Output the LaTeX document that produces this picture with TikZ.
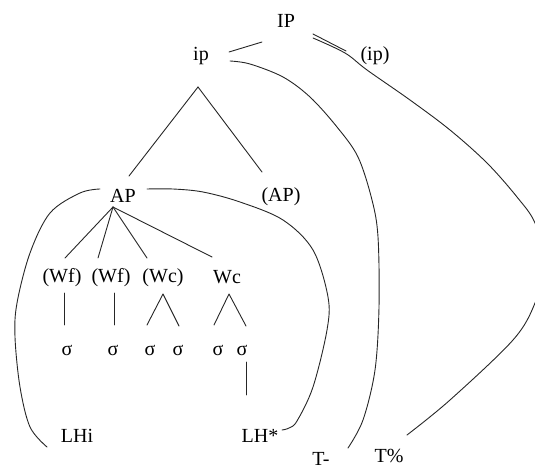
\documentclass[tikz,border=0pt]{standalone}
\usepackage{fontspec}
\setmainfont{Liberation Serif}
\newfontfamily\treefont{Liberation Serif}
\begin{document}
\begin{tikzpicture}[x=1pt,y=-1pt,
  lbl/.style={inner sep=0pt, font=\treefont\fontsize{20}{24}\selectfont, anchor=base},
  edge/.style={line width=0.9pt, black!85, line cap=round, line join=round},
  curve/.style={edge, smooth, tension=0.55}]
\useasboundingbox (0,0) rectangle (535,468);

% prosodic labels (positioned by baseline)
\node[lbl] (IP)  at (286,28)  {IP};
\node[lbl] (ip)  at (201,61)  {ip};
\node[lbl] (ipo) at (375,61)  {(ip)};
\node[lbl] (AP)  at (123,202) {AP};
\node[lbl] (APo) at (281,201) {(AP)};
\node[lbl] (Wf1) at (62,282)  {(Wf)};
\node[lbl] (Wf2) at (111,282) {(Wf)};
\node[lbl] (Wc1) at (163,282) {(Wc)};
\node[lbl] (Wc2) at (227,283) {Wc};
\node[lbl] (s1)  at (67,355)  {σ};
\node[lbl] (s2)  at (113,355) {σ};
\node[lbl] (s3)  at (150,355) {σ};
\node[lbl] (s4)  at (178,355) {σ};
\node[lbl] (s5)  at (218,355) {σ};
\node[lbl] (s6)  at (242,355) {σ};
\node[lbl] (LHi) at (77,442)  {LHi};
\node[lbl] (LHs) at (260,442) {LH*};
\node[lbl] (Tm)  at (321,465) {T-};
\node[lbl] (Tp)  at (389,462) {T\%};

% attachment points of the branches
\coordinate (IPw)   at (262,42);
\coordinate (ipNE)  at (229,52);
\coordinate (IPe1)  at (313,34);
\coordinate (IPe2)  at (313,38);
\coordinate (ipoW)  at (346,51);
\coordinate (ipS)   at (198,87);
\coordinate (APn)   at (129,176);
\coordinate (APon)  at (262,172);
\coordinate (APs)   at (113,207);
\coordinate (Wf1n)  at (65,258);
\coordinate (Wf2n)  at (98,258);
\coordinate (Wc1n)  at (147,258);
\coordinate (Wc2n)  at (212,257);
\coordinate (Wf1s)  at (64,293);
\coordinate (s1n)   at (64,325);
\coordinate (Wf2s)  at (114,293);
\coordinate (s2n)   at (114,325);
\coordinate (Wc1s)  at (163,294);
\coordinate (s3n)   at (147,325);
\coordinate (s4n)   at (179,326);
\coordinate (Wc2s)  at (229,294);
\coordinate (s5n)   at (214,325);
\coordinate (s6n)   at (246,326);
\coordinate (s6s)   at (246,362);
\coordinate (LHsn)  at (246,395);
\coordinate (ipE)   at (230,61);
\coordinate (Tmn)   at (348,448);
\coordinate (Tpn)   at (407,435);
\coordinate (APw)   at (100,189);
\coordinate (LHiw)  at (47,447);
\coordinate (APe)   at (147,189);
\coordinate (LHse)  at (282,430);

% tree branches
\draw[edge] (ipNE) -- (IPw);
\draw[edge] (IPe1) -- (ipoW);
\draw[edge] (ipS) -- (APn);
\draw[edge] (ipS) -- (APon);
\draw[edge] (APs) -- (Wf1n);
\draw[edge] (APs) -- (Wf2n);
\draw[edge] (APs) -- (Wc1n);
\draw[edge] (APs) -- (Wc2n);
\draw[edge] (Wf1s) -- (s1n);
\draw[edge] (Wf2s) -- (s2n);
\draw[edge] (s3n) -- (Wc1s) -- (s4n);
\draw[edge] (s5n) -- (Wc2s) -- (s6n);
\draw[edge] (s6s) -- (LHsn);

% tone association curves
\draw[curve] plot coordinates {(IPe2) (345,53) (367,70) (410,100) (450,130)
  (487,163) (517,197) (535,223) (545,263) (535,303) (513,340) (450,400) (Tpn)};
\draw[curve] plot coordinates {(ipE) (250,64) (283,77) (310,97) (337,127)
  (358,157) (372,200) (378,237) (379,307) (375,370) (363,420) (Tmn)};
\draw[curve] plot coordinates {(APw) (80,193) (50,213) (30,253) (17,303)
  (15,337) (20,387) (30,427) (LHiw)};
\draw[curve] plot coordinates {(APe) (173,189) (203,192) (240,202) (283,220)
  (313,250) (328,297) (327,330) (313,387) (297,421) (289,428) (LHse)};
\end{tikzpicture}
\end{document}
